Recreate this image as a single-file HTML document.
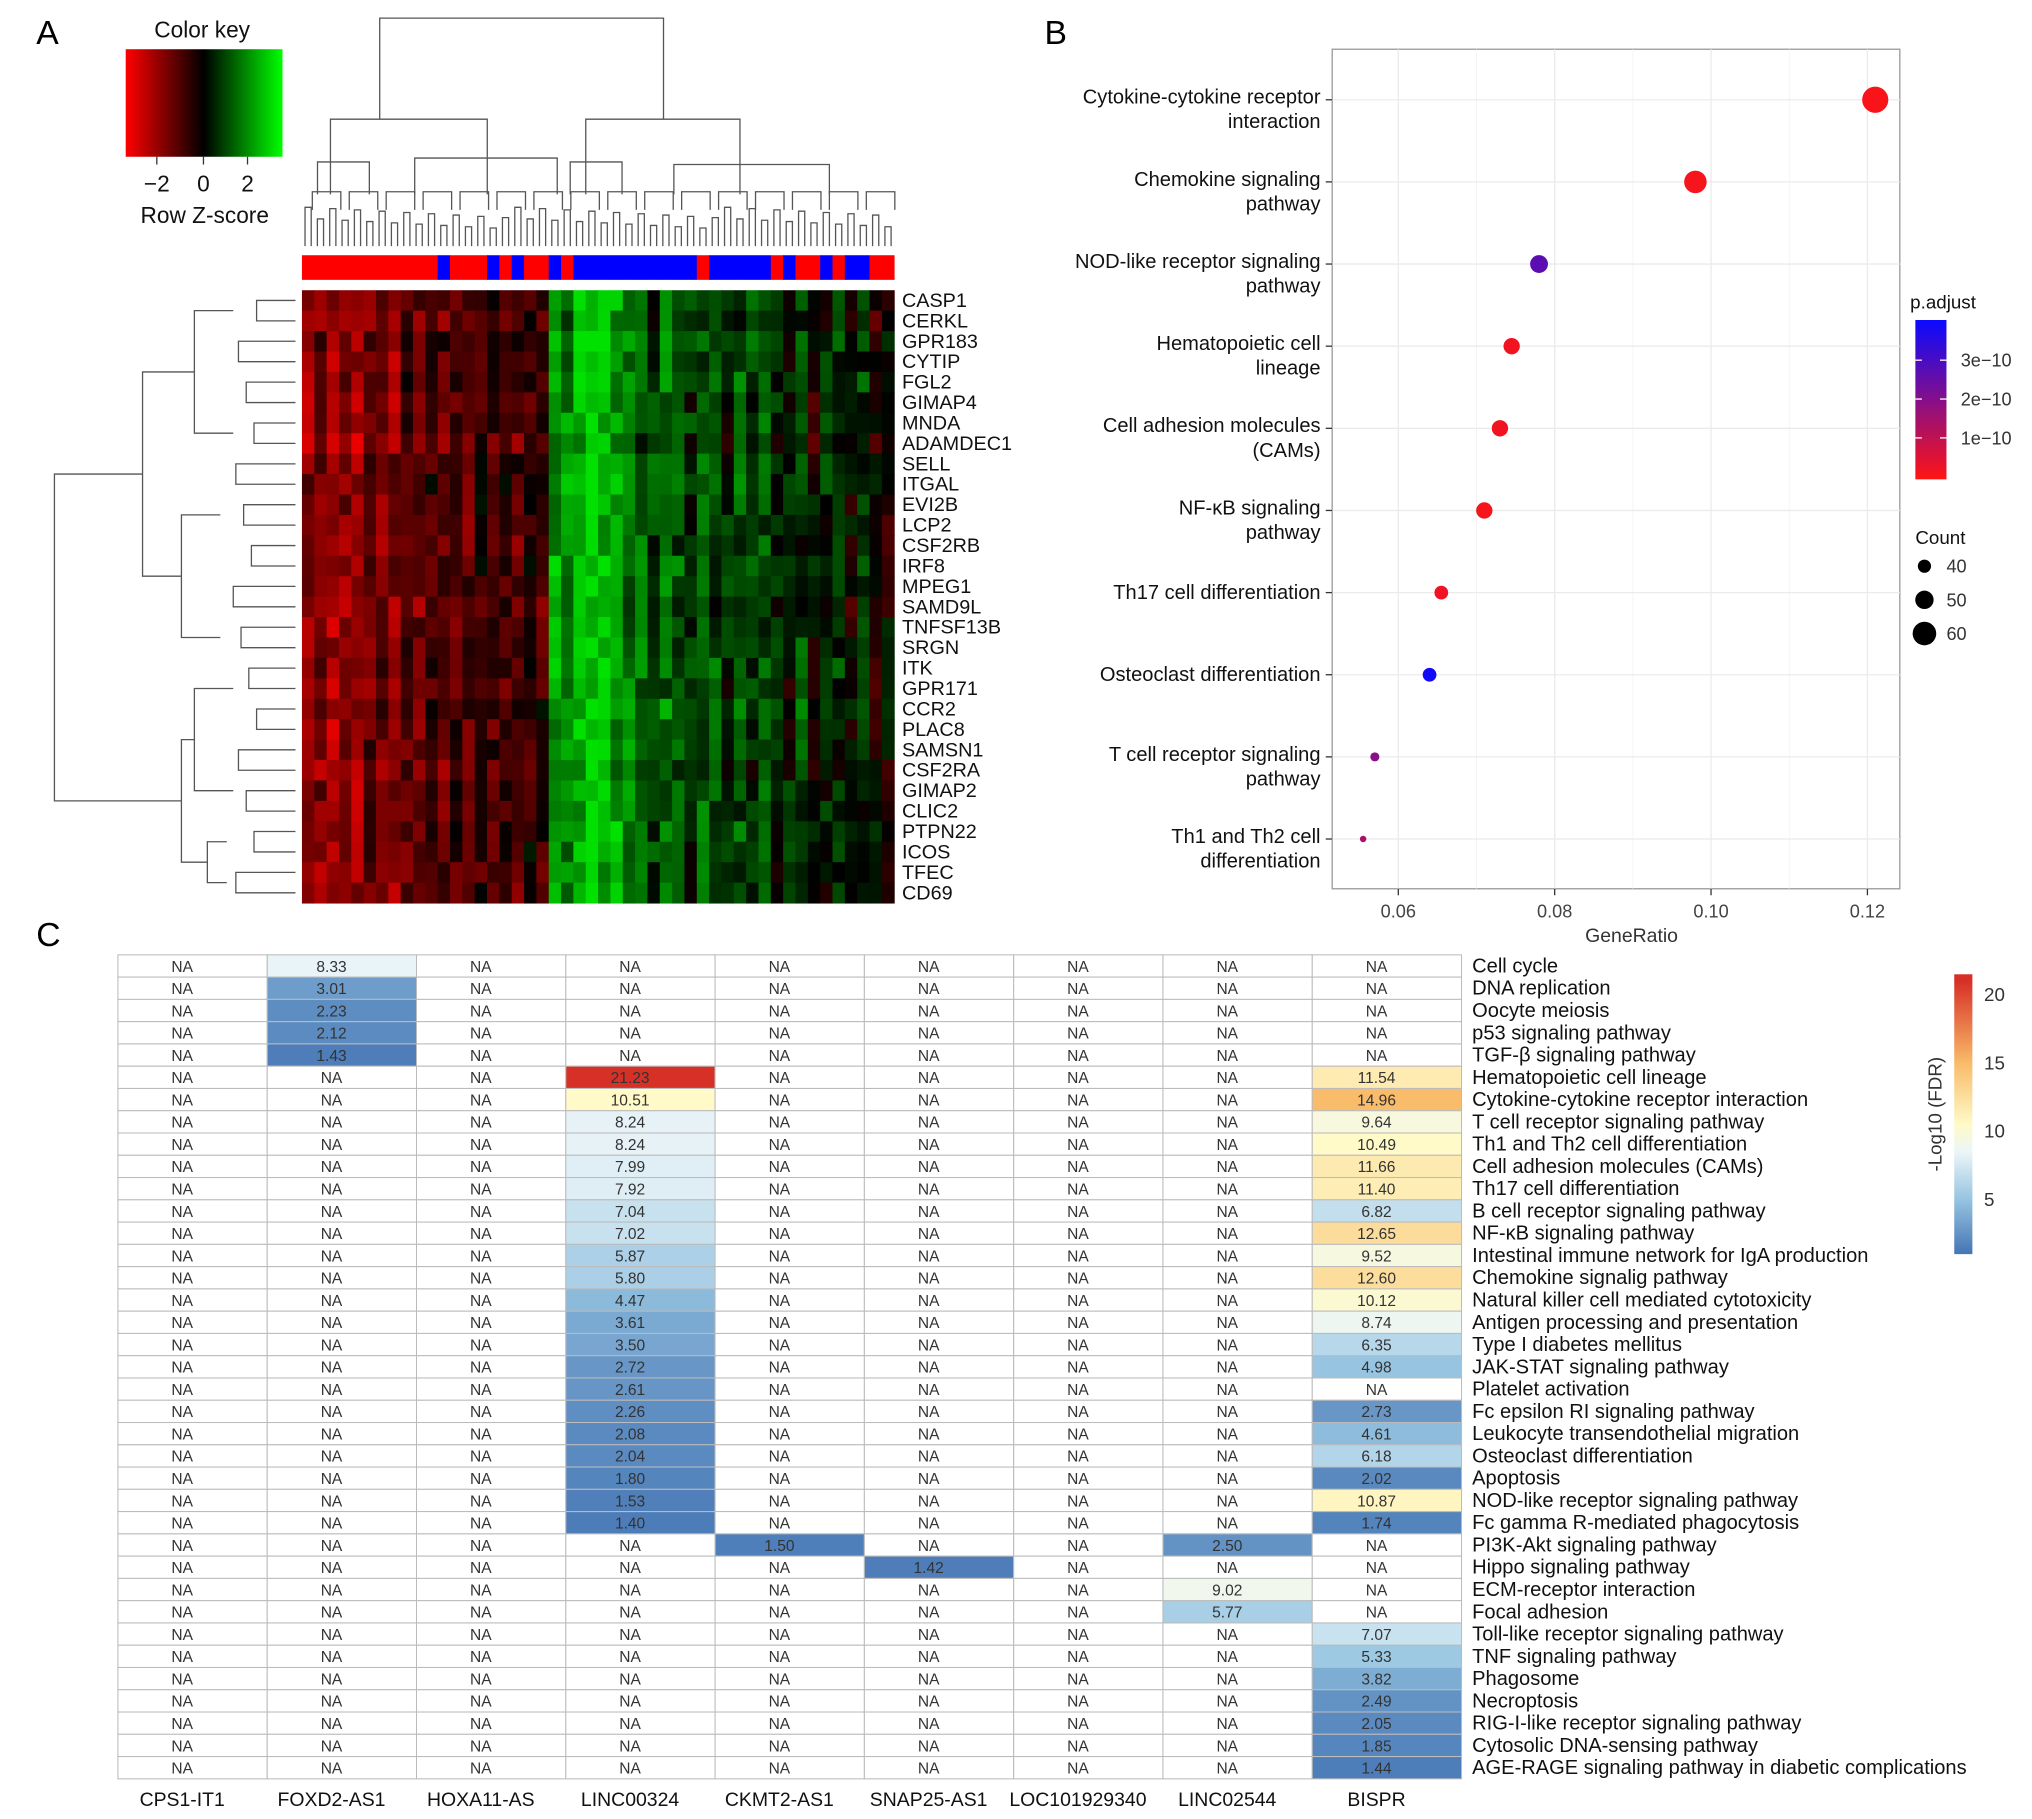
<!DOCTYPE html>
<html><head><meta charset="utf-8">
<style>
html,body{margin:0;padding:0;background:#fff}
svg{display:block;font-family:"Liberation Sans",sans-serif}
</style></head>
<body>
<svg id="root" width="2032" height="1819" viewBox="0 0 1568 1404" preserveAspectRatio="none" xmlns="http://www.w3.org/2000/svg">
<rect width="1568" height="1404" fill="#fff"/>
<text x="28" y="34" font-size="26">A</text>
<text x="806" y="34" font-size="26">B</text>
<text x="28" y="730" font-size="26">C</text>
<g id="pa"></g>
<g id="pb"></g>
<g id="pc"></g>
</svg>
<script>
// ---------- Panel A data ----------
const genes=["CASP1","CERKL","GPR183","CYTIP","FGL2","GIMAP4","MNDA","ADAMDEC1","SELL","ITGAL","EVI2B","LCP2","CSF2RB","IRF8","MPEG1","SAMD9L","TNFSF13B","SRGN","ITK","GPR171","CCR2","PLAC8","SAMSN1","CSF2RA","GIMAP2","CLIC2","PTPN22","ICOS","TFEC","CD69"];
const colMeans=[-1.8,-1.5,-2,-1.6,-1.9,-1.2,-1.4,-1.7,-1,-1.3,-0.8,-1.1,-0.9,-1.2,-0.6,-0.9,-0.7,-1,-0.5,-0.8,1.8,1.5,2.2,2.6,2.3,1.9,1.4,1.2,0.6,1.3,1.0,0.5,1.1,0.8,0.3,0.9,0.6,1.0,0.4,0.2,0.7,-0.2,0.3,0.5,-0.1,0.6,-0.3,-0.2];
const colNoise=[0.4,-0.6,0.8,-0.3,0.2,-0.9,0.5,0.1,-0.4,0.7,-0.2,0.3,-0.7,0.6,-0.1,0.9,-0.5,0.2,-0.8,0.4,0.1,-0.3,0.6,-0.6,0.3,0.8,-0.4,0.2,-0.9,0.5,-0.2,0.7,-0.5,0.1,0.4,-0.7,0.9,-0.1,0.3,-0.6,0.5,0.2,-0.8,0.6,-0.3,0.4,0.1,-0.5];
const rowDeltas=[0.1,-0.2,0.3,0,0.2,-0.1,0.1,-0.3,0.2,0.3,0.1,0,-0.1,0.2,0.1,-0.2,0,0.1,0.2,-0.1,0.3,0,0.1,-0.2,0.1,0,0.2,0.1,-0.1,0];
const sampleGroup=[1,1,1,1,1,1,1,1,1,1,1,0,1,1,1,0,1,0,1,1,0,1,0,0,0,0,0,0,0,0,0,0,1,0,0,0,0,0,1,0,1,1,0,1,0,0,1,1];
// ---------- Panel B data ----------
const pathwaysB=[["Cytokine-cytokine receptor","interaction"],["Chemokine signaling","pathway"],["NOD-like receptor signaling","pathway"],["Hematopoietic cell","lineage"],["Cell adhesion molecules","(CAMs)"],["NF-κB signaling","pathway"],["Th17 cell differentiation"],["Osteoclast differentiation"],["T cell receptor signaling","pathway"],["Th1 and Th2 cell","differentiation"]];
const geneRatio=[0.121,0.098,0.078,0.0745,0.073,0.071,0.0655,0.064,0.057,0.0555];
const counts=[65,58,49,46,46,46,41,41,32,27];
const padj=[0.1,0.15,2.6,0.2,0.2,0.15,0.25,3.8,1.9,1.4];
const xTicksB=[0.06,0.08,0.10,0.12];
const xTickLabelsB=["0.06","0.08","0.10","0.12"];
const padjTicks=[1,2,3];
const countLegend=[40,50,60];
// ---------- Panel C data ----------
const lncs=["CPS1-IT1","FOXD2-AS1","HOXA11-AS","LINC00324","CKMT2-AS1","SNAP25-AS1","LOC101929340","LINC02544","BISPR"];
const pathwaysC=["Cell cycle","DNA replication","Oocyte meiosis","p53 signaling pathway","TGF-β signaling pathway","Hematopoietic cell lineage","Cytokine-cytokine receptor interaction","T cell receptor signaling pathway","Th1 and Th2 cell differentiation","Cell adhesion molecules (CAMs)","Th17 cell differentiation","B cell receptor signaling pathway","NF-κB signaling pathway","Intestinal immune network for IgA production","Chemokine signalig pathway","Natural killer cell mediated cytotoxicity","Antigen processing and presentation","Type I diabetes mellitus","JAK-STAT signaling pathway","Platelet activation","Fc epsilon RI signaling pathway","Leukocyte transendothelial migration","Osteoclast differentiation","Apoptosis","NOD-like receptor signaling pathway","Fc gamma R-mediated phagocytosis","PI3K-Akt signaling pathway","Hippo signaling pathway","ECM-receptor interaction","Focal adhesion","Toll-like receptor signaling pathway","TNF signaling pathway","Phagosome","Necroptosis","RIG-I-like receptor signaling pathway","Cytosolic DNA-sensing pathway","AGE-RAGE signaling pathway in diabetic complications"];
const N=null;
const valFOXD2=[8.33,3.01,2.23,2.12,1.43];
const valLINC00324=[N,N,N,N,N,21.23,10.51,8.24,8.24,7.99,7.92,7.04,7.02,5.87,5.80,4.47,3.61,3.50,2.72,2.61,2.26,2.08,2.04,1.80,1.53,1.40];
const valCKMT2=[N,N,N,N,N,N,N,N,N,N,N,N,N,N,N,N,N,N,N,N,N,N,N,N,N,N,1.50];
const valSNAP25=[N,N,N,N,N,N,N,N,N,N,N,N,N,N,N,N,N,N,N,N,N,N,N,N,N,N,N,1.42];
const valLINC02544=[N,N,N,N,N,N,N,N,N,N,N,N,N,N,N,N,N,N,N,N,N,N,N,N,N,N,2.50,N,9.02,5.77];
const valBISPR=[N,N,N,N,N,11.54,14.96,9.64,10.49,11.66,11.40,6.82,12.65,9.52,12.60,10.12,8.74,6.35,4.98,N,2.73,4.61,6.18,2.02,10.87,1.74,N,N,N,N,7.07,5.33,3.82,2.49,2.05,1.85,1.44];
const colTicksC=[5,10,15,20];

const NS="http://www.w3.org/2000/svg";
function mk(tag,attrs,parent){const e=document.createElementNS(NS,tag);for(const k in attrs)e.setAttribute(k,attrs[k]);if(parent)parent.appendChild(e);return e;}
function txt(parent,x,y,s,size,anchor,extra){const t=mk('text',Object.assign({x:x,y:y,'font-size':size,'text-anchor':anchor||'start',fill:'#111'},extra||{}),parent);t.textContent=s;return t;}

// ===== Panel A =====
(function(){
const g=document.getElementById('pa');
const hx=233,hy=224,hw=457,hh=473;
const nc=colMeans.length,nr=genes.length;
const cw=hw/nc,rh=hh/nr;
const defs=mk('defs',{},g);
const lg=mk('linearGradient',{id:'rg',x1:0,x2:1,y1:0,y2:0},defs);
mk('stop',{offset:0,'stop-color':'#ff0000'},lg);mk('stop',{offset:0.5,'stop-color':'#000'},lg);mk('stop',{offset:1,'stop-color':'#00ff00'},lg);
const key=mk('rect',{x:97,y:38,width:121,height:83,fill:'url(#rg)'},g);


txt(g,156,29,'Color key',17.5,'middle');
[[-2,121],[0,157],[2,191]].forEach(a=>{mk('line',{x1:a[1],x2:a[1],y1:121,y2:127,stroke:'#333'},g);txt(g,a[1],148,a[0]<0?'−2':String(a[0]),17.5,'middle');});
txt(g,158,172,'Row Z-score',17.5,'middle');
for(let c=0;c<nc;c++){for(let r=0;r<nr;r++){
 const z=colMeans[c]+rowDeltas[r]+colNoise[(c+r*7)%nc]*0.8;
 const v=Math.max(0,Math.min(1,Math.abs(z)/2.8));
 const col=z<0?`rgb(${Math.round(v*235)},0,0)`:`rgb(0,${Math.round(v*225)},0)`;
 const cell=mk('rect',{x:hx+c*cw,y:hy+r*rh,width:cw+0.4,height:rh+0.4,fill:col},g);
 
 
}
 const sb=mk('rect',{x:hx+c*cw,y:197,width:cw+0.3,height:19,fill:sampleGroup[c]?'#ff0000':'#0000ff'},g);
 
 
}
genes.forEach((n,i)=>{const t=txt(g,696,hy+(i+0.5)*rh+5,n,15.3,'start');});
const dg=mk('g',{stroke:'#555','stroke-width':1,fill:'none'},g);


const L=n=>hx+(n+0.5)*(hw/96);
for(let i=0;i<96;i+=2){const a=L(i),b=L(i+1);const top=160+((i*13)%17);mk('path',{d:`M${a} 190V${top}H${b}V190`},dg);}
mk('path',{d:'M293 92V14H512V92'},dg);
mk('path',{d:'M255 150V92H376V150'},dg);mk('path',{d:'M452 150V92H571V150'},dg);
mk('path',{d:'M245 150V125H285V150'},dg);mk('path',{d:'M320 150V122H430V150'},dg);
mk('path',{d:'M440 150V125H480V150'},dg);mk('path',{d:'M520 150V127H640V150'},dg);
for(let k=0;k<16;k++){const a=hx+8+k*28.5;mk('path',{d:`M${a} 162V148H${a+22}V162`},dg);}
const rg=mk('g',{stroke:'#555','stroke-width':1,fill:'none'},g);


const Y=i=>hy+(i+0.5)*rh;
for(let i=0;i<30;i+=2){const x=198-((i*7)%20);mk('path',{d:`M228 ${Y(i)}H${x}V${Y(i+1)}H228`},rg);}
mk('path',{d:`M180 ${Y(0.5)}H150V${Y(6.5)}H180`},rg);
mk('path',{d:`M170 ${Y(10.5)}H140V${Y(16.5)}H170`},rg);
mk('path',{d:`M150 ${Y(3.5)}H110V${Y(13.5)}H140`},rg);
mk('path',{d:`M180 ${Y(19)}H150V${Y(24)}H180`},rg);
mk('path',{d:`M175 ${Y(26.5)}H160V${Y(28.5)}H175`},rg);
mk('path',{d:`M150 ${Y(21.5)}H140V${Y(27.5)}H160`},rg);
mk('path',{d:`M110 ${Y(8.5)}H42V${Y(24.5)}H140`},rg);
})();

// ===== Panel B =====
(function(){
const g=document.getElementById('pb');
const bx=1028,by=38,bw=438,bh=648;
const xs=v=>1079+(v-0.06)*(1441-1079)/0.06;
const ys=i=>77+i*63.4;
const rs=c=>2.5+(c-27)*0.2;
const pcol=p=>{const t=Math.min(1,p/3.9);const r=Math.round(255-t*245),b=Math.round(20+t*235),gg=Math.round(20-t*10);return `rgb(${r},${gg},${b})`;};
mk('rect',{x:bx,y:by,width:bw,height:bh,fill:'#fff',stroke:'#999','stroke-width':1},g);
[0.07,0.09,0.11].forEach(v=>mk('line',{x1:xs(v),x2:xs(v),y1:by,y2:by+bh,stroke:'#f2f2f2','stroke-width':0.6},g));
xTicksB.forEach((v,i)=>{mk('line',{x1:xs(v),x2:xs(v),y1:by,y2:by+bh,stroke:'#ebebeb','stroke-width':1},g);mk('line',{x1:xs(v),x2:xs(v),y1:by+bh,y2:by+bh+5,stroke:'#333'},g);const t=txt(g,xs(v),by+bh+22,xTickLabelsB[i],14,'middle',{fill:'#444'});});
pathwaysB.forEach((p,i)=>{
 mk('line',{x1:bx,x2:bx+bw,y1:ys(i),y2:ys(i),stroke:'#ebebeb'},g);
 mk('line',{x1:bx-5,x2:bx,y1:ys(i),y2:ys(i),stroke:'#333'},g);
 if(p.length===2){txt(g,1019,ys(i)+3,p[0],15.5,'end');txt(g,1019,ys(i)+22,p[1],15.5,'end');}
 else txt(g,1019,ys(i)+5,p[0],15.5,'end');
 const c=mk('circle',{cx:xs(geneRatio[i]),cy:ys(i),r:rs(counts[i]),fill:pcol(padj[i])},g);
 
 
});
txt(g,1259,727,'GeneRatio',15,'middle',{fill:'#333'});
const defs=mk('defs',{},g);
const lg=mk('linearGradient',{id:'pg',x1:0,x2:0,y1:0,y2:1},defs);
mk('stop',{offset:0,'stop-color':pcol(3.9)},lg);mk('stop',{offset:0.5,'stop-color':pcol(1.95)},lg);mk('stop',{offset:1,'stop-color':pcol(0)},lg);
txt(g,1474,238,'p.adjust',14.5,'start');
const pr=mk('rect',{x:1478,y:247,width:24,height:123,fill:'url(#pg)'},g);


padjTicks.forEach(v=>{const y=368-v*30;mk('line',{x1:1478,x2:1483,y1:y,y2:y,stroke:'#fff'},g);mk('line',{x1:1497,x2:1502,y1:y,y2:y,stroke:'#fff'},g);txt(g,1513,y+5,v+'e−10',14,'start',{fill:'#333'});});
txt(g,1478,420,'Count',14.5,'start');
countLegend.forEach((c,i)=>{const y=437+i*26;mk('circle',{cx:1485,cy:y,r:rs(c),fill:'#000'},g);txt(g,1502,y+5,String(c),14,'start',{fill:'#333'});});
})();

// ===== Panel C =====
(function(){
const g=document.getElementById('pc');
const tx=91,ty=737,cw=115.2,rh=(1373-737)/37;
const cols=[[],valFOXD2,[],valLINC00324,valCKMT2,valSNAP25,[],valLINC02544,valBISPR];
const stops=[[1,[69,117,180]],[5,[150,196,225]],[8.5,[236,246,248]],[10.5,[255,250,200]],[15,[249,187,105]],[21,[215,48,39]]];
function fc(v){for(let i=0;i<stops.length-1;i++){const a=stops[i],b=stops[i+1];if(v<=b[0]){const t=Math.max(0,(v-a[0])/(b[0]-a[0]));return 'rgb('+a[1].map((c,k)=>Math.round(c+(b[1][k]-c)*t)).join(',')+')';}}return 'rgb(215,48,39)';}
for(let c=0;c<9;c++){for(let r=0;r<37;r++){
 const v=cols[c][r];const has=v!=null&&v!==undefined;
 const cell=mk('rect',{x:tx+c*cw,y:ty+r*rh,width:cw,height:rh,fill:has?fc(v):'#fff',stroke:'#bbb','stroke-width':0.8},g);
 
 
 txt(g,tx+c*cw+cw/2-8,ty+r*rh+rh/2+4.5,has?v.toFixed(2):'NA',12,'middle',{fill:'#333'});
}
 const l=txt(g,tx+c*cw+cw/2-8,1394,lncs[c],15,'middle');
}
pathwaysC.forEach((p,r)=>{const t=txt(g,1136,ty+r*rh+rh/2+5,p,15.5,'start');});
const defs=mk('defs',{},g);
const lg=mk('linearGradient',{id:'cg',x1:0,x2:0,y1:1,y2:0},defs);
stops.forEach(s=>mk('stop',{offset:(s[0]-1)/20.5,'stop-color':fc(s[0])},lg));
const cb=mk('rect',{x:1508,y:752,width:14,height:216,fill:'url(#cg)'},g);


const yv=v=>968-(v-1)*(216/20.5);
colTicksC.forEach(v=>txt(g,1531,yv(v)+5,String(v),14.5,'start',{fill:'#333'}));
txt(g,1498,860,'-Log10 (FDR)',14.5,'middle',{transform:'rotate(-90 1498 860)',fill:'#333'});
})();
</script>
</body></html>
